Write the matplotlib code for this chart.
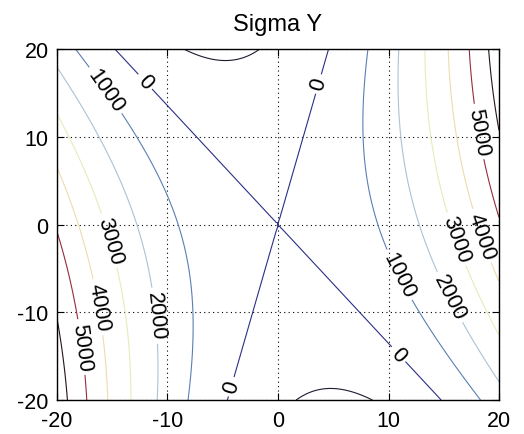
import matplotlib
matplotlib.use("Agg")
import matplotlib.pyplot as plt
import numpy as np

# stress field sigma_y = cxx*x^2 + cxy*x*y + cyy*y^2 over the plate
cxx = 12.25
cxy = 6.24
cyy = -2.07
levels = [-1000, 0, 1000, 2000, 3000, 4000, 5000, 6000]
line_colors = ['#1c1c30', '#2b2f86', '#5b7fb4', '#a9c3d6',
               '#e8eab8', '#eedcae', '#982a40', '#241414']
ticks = [-20, -10, 0, 10, 20]

# where the inline labels go (points sitting on the contours)
label_spots = [(-15.6, 15.3), (-12.0, 16.3), (3.7, 16.0), (18.2, 10.6),
               (-15.2, -1.8), (18.4, -1.3), (16.1, -1.7), (11.2, -5.6),
               (15.5, -8.3), (-16.2, -9.4), (-11.2, -10.4), (-18.0, -14.0),
               (-4.2, -18.5), (10.9, -14.8)]

plt.rcParams['font.family'] = ['Liberation Sans', 'DejaVu Sans']
plt.rcParams['axes.unicode_minus'] = False

x = np.linspace(-20, 20, 201)
y = np.linspace(-20, 20, 201)
X, Y = np.meshgrid(x, y)
Z = cxx * X**2 + cxy * X * Y + cyy * Y**2

fig = plt.figure(figsize=(5.24, 4.35), dpi=100)
ax = fig.add_axes([57 / 524, 1 - 401 / 435, 442 / 524, 351 / 435])

cs = ax.contour(X, Y, Z, levels=levels, colors=line_colors, linewidths=0.8)
ax.clabel(cs, fmt='%d', colors='k', fontsize=15.5, inline=True,
          inline_spacing=4, manual=label_spots)

ax.set_xlim(-20, 20)
ax.set_ylim(-20, 20)
ax.set_xticks(ticks)
ax.set_yticks(ticks)
ax.grid(True, color='k', linestyle=(0, (1, 3)), linewidth=0.8)
ax.tick_params(direction='in', length=5, labelsize=15.5, top=True, right=True,
               labeltop=False, labelright=False)
ax.tick_params(axis='x', pad=7)
ax.tick_params(axis='y', pad=6)
for spine in ax.spines.values():
    spine.set_linewidth(1.0)
ax.set_title('Sigma Y', fontsize=17, pad=14)

fig.savefig('out.png', dpi=100)
